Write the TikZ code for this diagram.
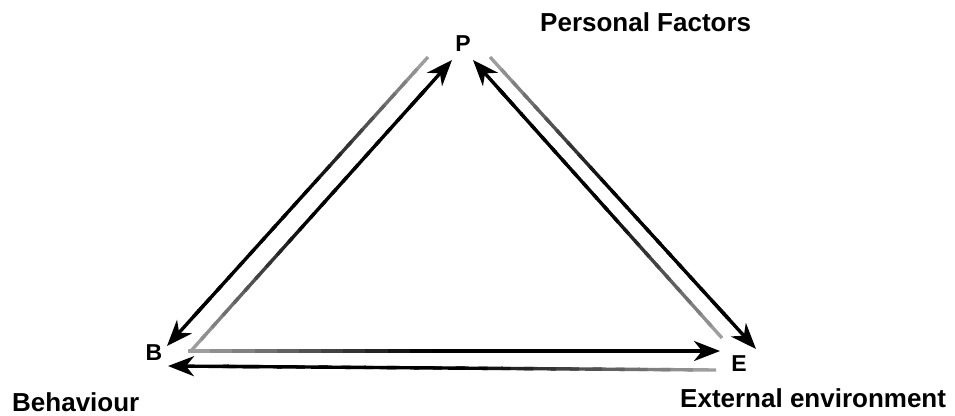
\documentclass[tikz,border=0pt]{standalone}
\usepackage{fontspec}
\setmainfont{Liberation Sans}
\usetikzlibrary{calc,arrows.meta}
\tikzset{
  lbl/.style={font=\fontsize{26}{28}\selectfont\bfseries, inner sep=0pt, anchor=base west},
  letter/.style={font=\fontsize{23}{25}\selectfont\bfseries, inner sep=0pt},
  headarrow/.style={-{Stealth[length=26pt 0 0,width=20pt 0 0,inset=8pt 0]}, line width=3.4pt, black},
  fadeseg/.style={line width=3.4pt},
}
\newcommand\fadeline[2]{%
  \foreach \i in {0,...,21}{%
    \pgfmathsetmacro\fa{\i/24}%
    \pgfmathsetmacro\fb{min(0.9,(\i+1.4)/24)}%
    \pgfmathsetmacro\fc{min(100,38+\i*6)}%
    \draw[fadeseg, draw=black!\fc] ($(#1)!\fa!(#2)$) -- ($(#1)!\fb!(#2)$);
  }%
  \draw[headarrow] ($(#1)!0.85!(#2)$) -- (#2);
}
\begin{document}
\begin{tikzpicture}[x=1pt,y=-1pt]
\useasboundingbox (0,0) rectangle (955,415);
% corner letters
\node[letter] (P) at (463,44) {P};
\node[letter] (B) at (154,353) {B};
\node[letter] (E) at (739,364) {E};
% labels
\node[lbl] (pf) at (540,31) {Personal Factors};
\node[lbl] (beh) at (12,411) {Behaviour};
\node[lbl] (ext) at (680,407) {External environment};
% arrow end points
\coordinate (t1) at (428,57);  \coordinate (h1) at (167,346);
\coordinate (t2) at (190,352); \coordinate (h2) at (452,60);
\coordinate (t3) at (722,338); \coordinate (h3) at (473,60);
\coordinate (t4) at (490,57);  \coordinate (h4) at (756,349);
\coordinate (t5) at (188,351); \coordinate (h5) at (720,351);
\coordinate (t6) at (716,370); \coordinate (h6) at (168,366);
\fadeline{t1}{h1}
\fadeline{t2}{h2}
\fadeline{t3}{h3}
\fadeline{t4}{h4}
\fadeline{t5}{h5}
\fadeline{t6}{h6}
\end{tikzpicture}
\end{document}
